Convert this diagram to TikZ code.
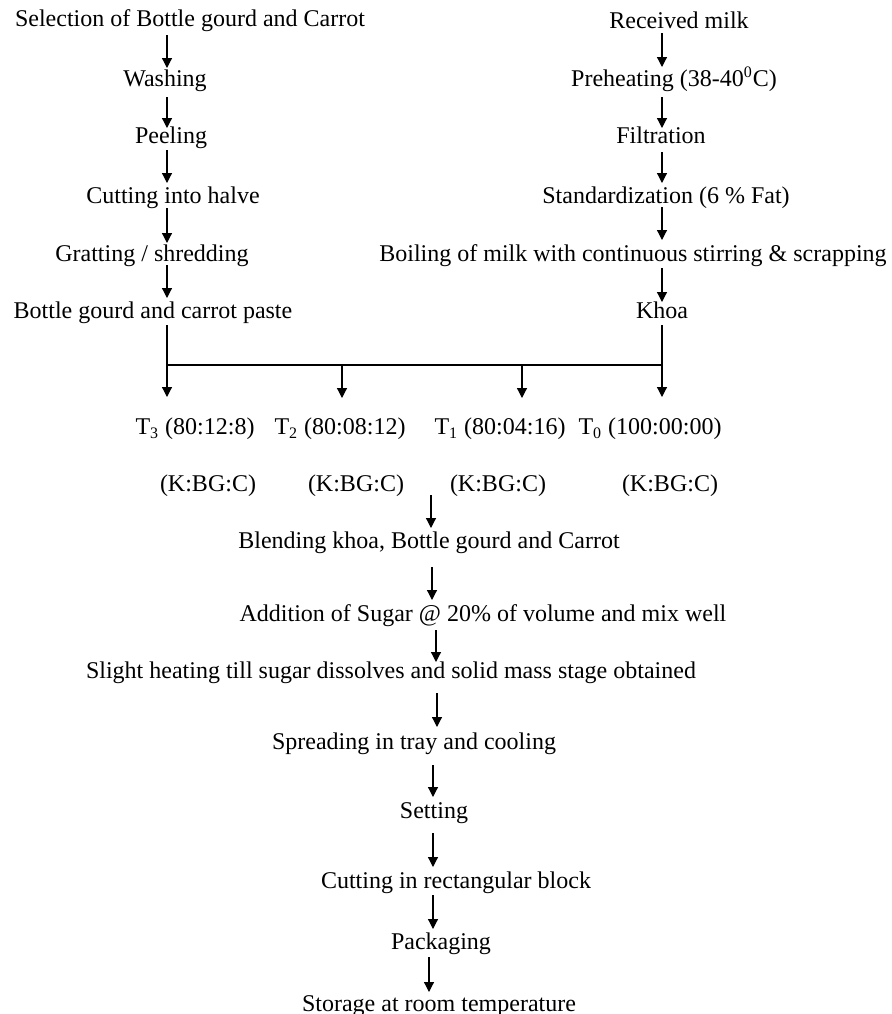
\documentclass[tikz,border=0pt]{standalone}
\usepackage{fontspec}
\setmainfont{Liberation Serif}
\usetikzlibrary{arrows.meta,calc}
\newcommand\flowarrow[5]{\draw[arr] ($(#1.center -| #3)+(0,#4)$) -- ($(#2.center -| #3)+(0,-#5)$);}
\begin{document}
\begin{tikzpicture}[x=0.5pt,y=-0.5pt,
  lbl/.style={inner sep=0pt, text height=0.8em, text depth=0.14em, font=\fontsize{12}{14}\selectfont, anchor=center},
  arr/.style={line width=0.6pt, -{Triangle[width=5pt,length=5pt]}},
  ln/.style={line width=0.6pt}]
\clip (0,0) rectangle (892,1014);
% columns
\coordinate (L) at (167,0);
\coordinate (R) at (662,0);
% left column
\node[lbl] (sel) at (190,20) {Selection of Bottle gourd and Carrot};
\node[lbl] (wash) at (165,80) {Washing};
\node[lbl] (peel) at (171,137) {Peeling};
\node[lbl] (cut) at (173,197) {Cutting into halve};
\node[lbl] (grat) at (152,255) {Gratting / shredding};
\node[lbl] (paste) at (153,312) {Bottle gourd and carrot paste};
% right column
\node[lbl] (recv) at (679,22) {Received milk};
\node[lbl] (preh) at (674,80) {Preheating (38-40\textsuperscript{0}C)};
\node[lbl] (filt) at (661,137) {Filtration};
\node[lbl] (std) at (666,197) {Standardization (6 \% Fat)};
\node[lbl] (boil) at (633,255) {Boiling of milk with continuous stirring \& scrapping};
\node[lbl] (khoa) at (662,312) {Khoa};
% treatments
\node[lbl] (t3) at (195,428) {T\textsubscript{3} (80:12:8)};
\node[lbl] (t2) at (340,428) {T\textsubscript{2} (80:08:12)};
\node[lbl] (t1) at (500,428) {T\textsubscript{1} (80:04:16)};
\node[lbl] (t0) at (650,428) {T\textsubscript{0} (100:00:00)};
\node[lbl] (k3) at (208,485) {(K:BG:C)};
\node[lbl] (k2) at (356,485) {(K:BG:C)};
\node[lbl] (k1) at (498,485) {(K:BG:C)};
\node[lbl] (k0) at (670,485) {(K:BG:C)};
% central column
\node[lbl] (blend) at (429,542) {Blending khoa, Bottle gourd and Carrot};
\node[lbl] (add) at (483,615) {Addition of Sugar @ 20\% of volume and mix well};
\node[lbl] (heat) at (391,672) {Slight heating till sugar dissolves and solid mass stage obtained};
\node[lbl] (spread) at (414,743) {Spreading in tray and cooling};
\node[lbl] (set) at (434,812) {Setting};
\node[lbl] (cutb) at (456,882) {Cutting in rectangular block};
\node[lbl] (pack) at (441,943) {Packaging};
\node[lbl] (store) at (439,1005) {Storage at room temperature};
% left arrows
\flowarrow{sel}{wash}{L}{15}{12}
\flowarrow{wash}{peel}{L}{17}{9}
\flowarrow{peel}{cut}{L}{13}{14}
\flowarrow{cut}{grat}{L}{11}{12}
\flowarrow{grat}{paste}{L}{10}{14}
% right arrows
\flowarrow{recv}{preh}{R}{11}{13}
\flowarrow{preh}{filt}{R}{17}{9}
\flowarrow{filt}{std}{R}{15}{14}
\flowarrow{std}{boil}{R}{10}{15}
\flowarrow{boil}{khoa}{R}{13}{10}
% distribution
\coordinate (j3) at (167,365);
\coordinate (j2) at (342,365);
\coordinate (j1) at (522,365);
\coordinate (j0) at (662,365);
\coordinate (e3) at (167,397);
\coordinate (e2) at (342,398);
\coordinate (e1) at (522,398);
\coordinate (e0) at (662,397);
\draw[arr] ($(paste.center -| L)+(0,13)$) -- (e3);
\draw[arr] ($(khoa.center -| R)+(0,13)$) -- (e0);
\draw[ln] (j3) -- (j0);
\draw[arr] (j2) -- (e2);
\draw[arr] (j1) -- (e1);
% central arrows
\coordinate (C1) at (431,0);
\coordinate (C2) at (432,0);
\coordinate (C3) at (436,0);
\coordinate (C4) at (437,0);
\coordinate (C5) at (433,0);
\coordinate (C6) at (429,0);
\flowarrow{k1}{blend}{C1}{10}{14}
\flowarrow{blend}{add}{C2}{25}{15}
\flowarrow{add}{heat}{C3}{15}{10}
\flowarrow{heat}{spread}{C4}{21}{16}
\flowarrow{spread}{set}{C5}{22}{15}
\flowarrow{set}{cutb}{C5}{21}{15}
\flowarrow{cutb}{pack}{C5}{13}{14}
\flowarrow{pack}{store}{C6}{14}{13}
\end{tikzpicture}
\end{document}
